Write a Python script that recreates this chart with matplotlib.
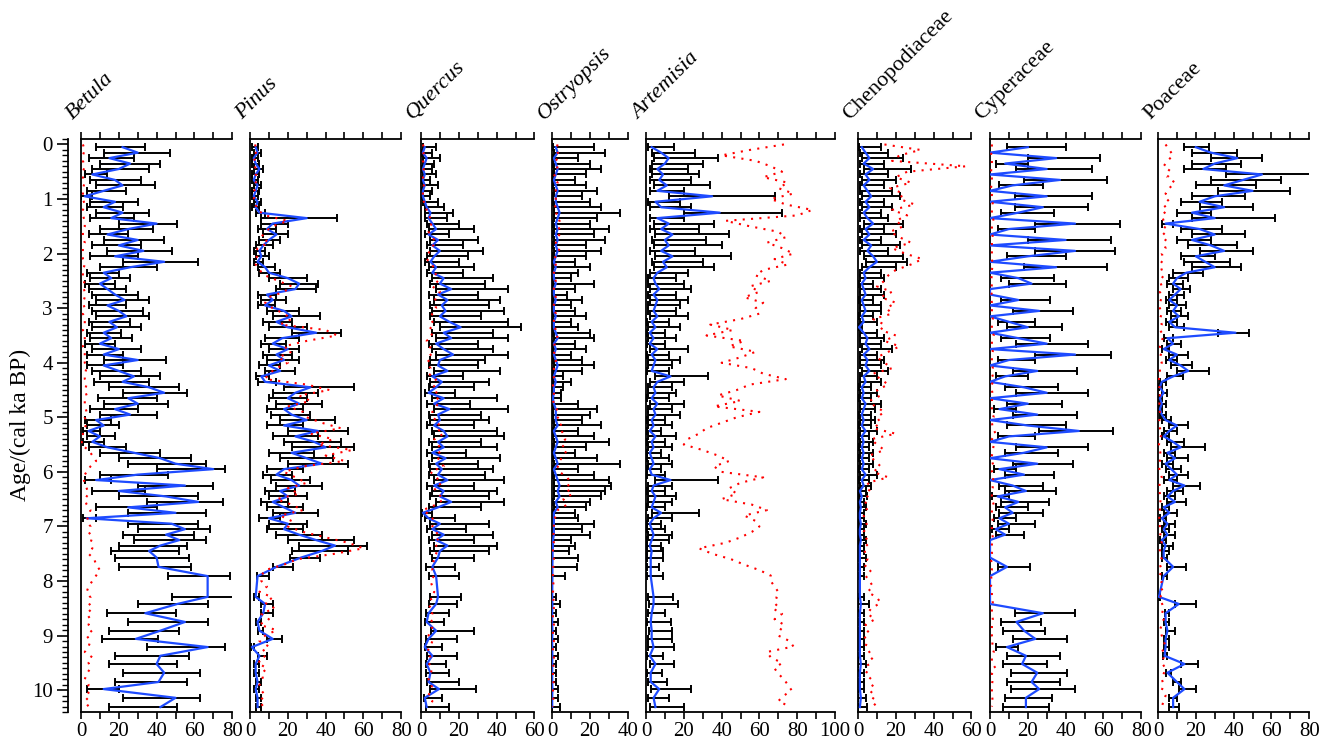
import matplotlib.pyplot as plt
import numpy as np
from matplotlib.ticker import MultipleLocator, FuncFormatter

plt.rcParams['font.family'] = ['Liberation Serif', 'DejaVu Serif']

# sample ages (cal ka BP) of the error-bar / blue series
ages = [0.05, 0.15, 0.25, 0.35, 0.45, 0.55, 0.65, 0.75, 0.85, 0.95,
        1.05, 1.15, 1.25, 1.35, 1.45, 1.55, 1.65, 1.75, 1.85, 1.95,
        2.05, 2.15, 2.25, 2.35, 2.45, 2.55, 2.65, 2.75, 2.85, 2.95,
        3.05, 3.15, 3.25, 3.35, 3.45, 3.55, 3.65, 3.75, 3.85, 3.95,
        4.05, 4.15, 4.25, 4.35, 4.45, 4.55, 4.65, 4.75, 4.85, 4.95,
        5.05, 5.15, 5.25, 5.35, 5.45, 5.55, 5.65, 5.75, 5.85, 5.95,
        6.05, 6.15, 6.25, 6.35, 6.45, 6.55, 6.65, 6.75, 6.85, 6.95,
        7.05, 7.15, 7.25, 7.35, 7.45,
        7.57, 7.74, 7.91, 8.29, 8.42, 8.59, 8.75, 8.91, 9.06, 9.21, 9.37, 9.52, 9.68, 9.85, 9.98, 10.14, 10.31]

# ages of the red dotted series
red_age = [0.0, 0.1, 0.2, 0.3, 0.4, 0.5, 0.6, 0.7, 0.8, 0.9,
           1.0, 1.1, 1.2, 1.3, 1.4, 1.5, 1.6, 1.7, 1.8, 1.9,
           2.0, 2.1, 2.2, 2.3, 2.4, 2.5, 2.6, 2.7, 2.8, 2.9,
           3.0, 3.1, 3.2, 3.3, 3.4, 3.5, 3.6, 3.7, 3.8, 3.9,
           4.0, 4.1, 4.2, 4.3, 4.4, 4.5, 4.6, 4.7, 4.8, 4.9,
           5.0, 5.1, 5.2, 5.3, 5.4, 5.5, 5.6, 5.7, 5.8, 5.9,
           6.0, 6.1, 6.2, 6.3, 6.4, 6.5, 6.6, 6.7, 6.8, 6.9,
           7.0, 7.1, 7.2, 7.3, 7.4, 7.5, 7.6, 7.7, 7.8, 7.9,
           8.0, 8.1, 8.2, 8.3, 8.4, 8.5, 8.6, 8.7, 8.8, 8.9,
           9.0, 9.1, 9.2, 9.3, 9.4, 9.5, 9.6, 9.7, 9.8, 9.9,
           10.0, 10.1, 10.2, 10.3]

# ---------------- Betula ----------------
betula_mean = [22, 30, 15, 26, 20, 6, 18, 22, 12, 2,
               18, 12, 22, 16, 40, 25, 14, 30, 20, 33,
               18, 44, 26, 12, 16, 10, 14, 18, 23, 14,
               20, 24, 15, 19, 12, 16, 10, 20, 12, 30,
               12, 20, 28, 22, 36, 44, 25, 30, 18, 26,
               8, 12, 4, 10, 6, 14, 28, 42, 50, 70,
               30, 8, 55, 20, 45, 62, 25, 50, 3, 48,
               55, 45, 52, 42, 36,
               40, 41, 67, 67, 51, 34, 55, 42, 29, 67, 42, 40, 44, 41, 12, 50, 42]
betula_lo = [8, 12, 4, 10, 6, 2, 5, 8, 3, 0,
             5, 3, 8, 5, 20, 10, 4, 12, 6, 14,
             5, 22, 10, 3, 5, 2, 4, 6, 8, 4,
             6, 8, 4, 6, 3, 5, 2, 6, 3, 12,
             3, 6, 10, 7, 15, 22, 9, 12, 5, 10,
             2, 3, 1, 3, 1, 4, 10, 20, 25, 40,
             10, 2, 30, 6, 20, 35, 8, 25, 1, 25,
             30, 22, 28, 20, 16,
             18, 20, 46, 48, 30, 14, 25, 15, 11, 35, 18, 15, 22, 18, 3, 22, 15]
betula_hi = [34, 47, 28, 42, 36, 14, 32, 39, 24, 6,
             30, 22, 36, 28, 51, 38, 25, 44, 32, 48,
             30, 62, 40, 20, 26, 18, 24, 30, 36, 24,
             33, 36, 26, 32, 21, 27, 18, 32, 22, 45,
             22, 32, 42, 36, 52, 56, 40, 46, 30, 40,
             16, 20, 10, 18, 12, 24, 42, 58, 66, 76,
             46, 16, 70, 34, 62, 75, 40, 66, 8, 62,
             68, 60, 66, 56, 52,
             57, 58, 79, 82, 67, 50, 67, 52, 41, 76, 57, 51, 63, 56, 20, 63, 51]
betula_red = [1, 2, 1, 1, 2, 1, 1, 2, 1, 1,
              1, 2, 1, 1, 2, 2, 1, 1, 2, 1,
              1, 1, 2, 1, 1, 2, 1, 2, 2, 1,
              2, 1, 2, 2, 1, 2, 2, 1, 2, 2,
              2, 3, 2, 2, 3, 2, 3, 2, 2, 3,
              2, 3, 2, 1, 1, 0, 4, 6, 8, 5,
              3, 1, 2, 3, 4, 2, 3, 5, 4, 3,
              5, 4, 6, 5, 6, 4, 7, 8, 10, 8,
              6, 4, 3, 5, 4, 6, 3, 5, 4, 6,
              3, 5, 4, 2, 6, 4, 5, 3, 2, 4,
              3, 5, 2, 4]

# ---------------- Pinus ----------------
pinus_mean = [3, 4, 2, 3, 5, 3, 2, 4, 3, 2,
              4, 3, 5, 30, 12, 9, 14, 10, 7, 5,
              6, 4, 8, 10, 20, 26, 24, 9, 12, 8,
              18, 22, 14, 20, 35, 17, 12, 20, 14, 18,
              10, 16, 6, 8, 32, 24, 20, 26, 18, 22,
              30, 18, 36, 24, 34, 40, 22, 30, 38, 18,
              14, 22, 26, 16, 20, 12, 18, 24, 10, 20,
              18, 26, 35, 45, 38,
              27, 14, 4, 3, 8, 7, 4, 5, 12, 1, 5, 3, 3, 4, 3, 4, 4]
pinus_lo = [1, 2, 1, 1, 2, 1, 1, 2, 1, 1,
            2, 1, 3, 6, 6, 4, 7, 5, 3, 2,
            3, 2, 4, 5, 10, 16, 14, 4, 6, 4,
            9, 12, 7, 10, 22, 8, 6, 10, 7, 9,
            5, 8, 3, 4, 18, 12, 10, 14, 9, 11,
            16, 9, 20, 12, 18, 22, 10, 16, 20, 9,
            7, 11, 14, 8, 10, 6, 9, 12, 5, 10,
            9, 14, 20, 26, 22,
            21, 12, 3.5, 2, 6, 6, 3, 4, 9, 0.5, 4, 2, 2, 3, 2, 3, 3]
pinus_hi = [4, 6, 4, 5, 7, 5, 4, 6, 5, 4,
            6, 5, 8, 46, 20, 14, 20, 16, 12, 8,
            10, 7, 13, 16, 30, 36, 35, 14, 19, 13,
            26, 37, 22, 30, 48, 26, 19, 26, 22, 26,
            16, 24, 10, 14, 55, 36, 30, 38, 28, 32,
            45, 28, 52, 36, 48, 55, 34, 44, 52, 28,
            22, 32, 38, 24, 30, 20, 28, 36, 16, 30,
            28, 38, 55, 62, 52,
            37, 23, 10, 5, 12, 12, 6, 7, 17, 2, 9, 5, 5, 6, 5, 6, 6]
pinus_red = [3, 2, 4, 2, 3, 2, 4, 3, 2, 3,
             2, 3, 4, 8, 20, 12, 8, 6, 10, 4,
             3, 4, 3, 5, 8, 15, 22, 18, 10, 8,
             12, 18, 22, 16, 40, 46, 30, 18, 22, 15,
             20, 14, 10, 8, 30, 42, 26, 32, 20, 28,
             30, 38, 48, 32, 44, 36, 54, 40, 50, 28,
             18, 24, 30, 20, 26, 14, 22, 28, 16, 22,
             20, 28, 40, 52, 60, 45, 25, 18, 8, 6,
             6, 9, 5, 12, 8, 13, 6, 10, 5, 14,
             8, 5, 10, 6, 8, 4, 9, 6, 7, 5,
             6, 8, 5, 7]

# ---------------- Quercus ----------------
quercus_mean = [2, 1, 3, 2, 1, 2, 1, 2, 1, 1,
                2, 3, 5, 4, 6, 8, 4, 9, 6, 10,
                7, 5, 8, 6, 12, 10, 16, 9, 14, 11,
                13, 10, 15, 21, 12, 16, 8, 12, 17, 10,
                9, 14, 6, 11, 8, 4, 12, 7, 15, 9,
                10, 7, 12, 14, 9, 12, 6, 13, 8, 11,
                9, 14, 7, 12, 10, 16, 9, 1, 4, 10,
                6, 12, 8, 14, 10,
                9, 6, 8, 9, 8, 4, 3, 8, 4, 2, 6, 3, 5, 4, 9.5, 2, 3]
quercus_lo = [1, 0.5, 1, 1, 0.5, 1, 0.5, 1, 0.5, 0.5,
              1, 2, 2, 2, 3, 4, 2, 5, 3, 5,
              3, 2, 4, 3, 6, 5, 8, 4, 7, 5,
              6, 5, 7, 10, 6, 8, 4, 6, 8, 5,
              4, 7, 3, 5, 4, 2, 6, 3, 7, 4,
              5, 3, 6, 7, 4, 6, 3, 6, 4, 5,
              4, 7, 3, 6, 5, 8, 4, 0.5, 2, 5,
              3, 6, 4, 7, 5,
              6, 2.5, 4, 4.5, 4, 2.5, 2, 5.4, 2.5, 2, 3, 2.5, 2.5, 3, 4.6, 1.5, 2.5]
quercus_hi = [8, 6, 10, 7, 6, 8, 5, 9, 6, 5,
              9, 12, 17, 14, 20, 28, 15, 30, 22, 33,
              25, 20, 28, 22, 38, 34, 46, 30, 42, 36,
              44, 32, 46, 53, 38, 46, 30, 38, 46, 34,
              30, 42, 22, 36, 28, 18, 40, 26, 46, 32,
              36, 28, 40, 44, 32, 40, 24, 42, 30, 38,
              34, 44, 28, 40, 36, 44, 32, 6, 18, 36,
              24, 38, 28, 40, 36,
              28, 18, 20, 21, 19, 15, 12, 28, 19, 11, 19, 13, 15, 20, 29, 11, 15]
quercus_red = [1, 2, 1, 1, 2, 1, 1, 2, 1, 1,
               1, 2, 3, 4, 6, 5, 4, 6, 8, 5,
               4, 3, 6, 7, 8, 9, 6, 10, 8, 7,
               8, 6, 5, 7, 4, 6, 3, 5, 4, 6,
               3, 5, 4, 8, 6, 9, 7, 10, 8, 6,
               6, 10, 8, 12, 7, 9, 11, 8, 10, 12,
               5, 8, 11, 7, 9, 12, 8, 1, 5, 7,
               6, 8, 10, 7, 9, 8, 7, 6, 6, 7,
               5, 6, 7, 5, 6, 4, 6, 5, 7, 5,
               4, 6, 5, 3, 5, 4, 6, 5, 4, 6,
               5, 4, 6, 5]

# ---------------- Ostryopsis ----------------
ostryopsis_mean = [2, 3, 1, 2, 3, 2, 1, 2, 3, 2,
                   2, 3, 4, 3, 2, 3, 2, 3, 2, 3,
                   2, 1, 2, 1, 1, 2, 1, 1, 2, 1,
                   1, 2, 1, 1, 2, 3, 1, 2, 1, 2,
                   3, 2, 1, 2, 1, 1, 0.5, 1, 2, 2,
                   2, 3, 1, 2, 3, 2, 1, 2, 3, 1,
                   2, 3, 4, 3, 4, 2, 3, 1, 1, 1,
                   1, 1, 0.5, 0.5, 0.3,
                   0.3, 0.2, 0.2, 0.1, 0.2, 0.1, 0.1, 0.2, 0.1, 0.1, 0.2, 0.1, 0.1, 0.1, 0.2, 0.1, 0.1]
ostryopsis_lo = [0.5, 1, 0.3, 0.5, 1, 0.5, 0.3, 0.5, 1, 0.5,
                 0.5, 1, 1, 1, 0.5, 1, 0.5, 1, 0.5, 1,
                 0.5, 0.3, 0.5, 0.3, 0.3, 0.5, 0.3, 0.3, 0.5, 0.3,
                 0.3, 0.5, 0.3, 0.3, 0.5, 1, 0.3, 0.5, 0.3, 0.5,
                 1, 0.5, 0.3, 0.5, 0.3, 0.3, 0.2, 0.3, 0.5, 0.5,
                 0.5, 1, 0.3, 0.5, 1, 0.5, 0.3, 0.5, 1, 0.3,
                 0.5, 1, 1, 1, 1, 0.5, 1, 0.3, 0.3, 0.3,
                 0.3, 0.3, 0.1, 0.1, 0.1,
                 0, 0, 0, 0, 0, 0, 0, 0, 0, 0, 0, 0, 0, 0, 0, 0, 0]
ostryopsis_hi = [22, 28, 14, 20, 26, 18, 12, 18, 24, 16,
                 20, 26, 36, 24, 20, 30, 22, 28, 18, 26,
                 18, 12, 20, 14, 10, 22, 12, 8, 16, 10,
                 12, 18, 10, 14, 20, 22, 12, 18, 10, 16,
                 22, 16, 6, 10, 6, 5, 5, 14, 24, 20,
                 16, 26, 14, 22, 30, 18, 12, 24, 36, 14,
                 22, 30, 31, 28, 26, 20, 18, 12, 14, 22,
                 16, 20, 10, 12, 9,
                 14, 13, 7, 2, 4, 2, 3, 2, 3, 2, 3, 2, 2, 2, 3, 3, 4]
ostryopsis_red = [3, 2, 4, 2, 3, 2, 1, 3, 2, 2,
                  2, 1, 3, 2, 4, 3, 5, 3, 2, 4,
                  3, 1, 2, 1, 1, 2, 1, 1, 2, 1,
                  1, 2, 1, 1, 2, 3, 2, 1, 1, 2,
                  2, 1, 1, 1, 0.5, 1, 1, 0.5, 2, 3,
                  3, 5, 4, 6, 7, 5, 8, 6, 4, 3,
                  4, 8, 10, 7, 11, 6, 8, 3, 2, 1,
                  1, 1, 0.5, 1, 0.5, 0.5, 1, 0.5, 1, 0.5,
                  0.5, 1, 0.5, 1, 0.5, 1, 0.5, 0.5, 1, 0.5,
                  0.5, 1, 0.5, 0.5, 1, 0.5, 1, 0.5, 0.5, 1,
                  0.5, 1, 0.5, 0.5]

# ---------------- Artemisia ----------------
artemisia_mean = [3, 8, 12, 10, 6, 9, 7, 11, 6, 35,
                  5, 8, 39, 6, 12, 8, 14, 10, 12, 8,
                  14, 9, 11, 6, 4, 5, 7, 4, 6, 5,
                  4, 6, 3, 5, 2, 4, 2, 6, 3, 5,
                  4, 3, 13, 6, 4, 5, 3, 6, 4, 5,
                  3, 4, 2, 5, 3, 4, 2, 3, 4, 2,
                  3, 13, 4, 3, 5, 4, 3, 8, 4, 2,
                  3, 4, 3, 2, 3,
                  2.5, 2.5, 2.5, 4, 4, 3, 2.5, 3, 3, 4, 2, 5, 2.5, 2.5, 7, 4, 5]
artemisia_lo = [1, 3, 4, 3, 2, 3, 2, 4, 2, 12,
                1, 2, 20, 2, 4, 2, 5, 3, 4, 2,
                5, 3, 4, 2, 1, 1, 2, 1, 2, 1,
                1, 2, 0.5, 1, 0.5, 1, 0.5, 2, 0.5, 1,
                1, 0.5, 5, 2, 1, 1, 0.5, 2, 1, 1,
                0.5, 1, 0.5, 1, 0.5, 1, 0.5, 0.5, 1, 0.5,
                0.5, 5, 1, 0.5, 1, 1, 0.5, 3, 1, 0.5,
                0.5, 1, 0.5, 0.5, 0.5,
                0.7, 0.7, 0.7, 1.2, 1.8, 1, 0.7, 1.8, 1.2, 1.2, 0.7, 2, 0.7, 1.2, 2.5, 1.2, 2]
artemisia_hi = [15, 26, 38, 30, 22, 28, 24, 34, 20, 68,
                18, 24, 72, 20, 36, 28, 44, 32, 40, 26,
                45, 30, 36, 22, 16, 20, 24, 16, 22, 18,
                16, 22, 12, 18, 10, 16, 10, 22, 12, 18,
                14, 12, 33, 20, 14, 16, 12, 20, 14, 18,
                10, 14, 8, 16, 10, 14, 8, 12, 14, 8,
                10, 38, 14, 10, 16, 14, 10, 28, 14, 8,
                10, 14, 12, 8, 9,
                9, 7, 9, 14.5, 16.7, 10, 13, 14, 14, 15, 9, 15, 8.5, 11, 24, 12, 20]
artemisia_red = [73, 55, 40, 58, 66, 72, 62, 75, 70, 78,
                 66, 74, 88, 80, 42, 55, 70, 74, 64, 72,
                 78, 68, 75, 62, 58, 66, 55, 60, 52, 62,
                 58, 60, 50, 34, 46, 32, 52, 44, 58, 50,
                 40, 56, 62, 74, 55, 48, 38, 50, 36, 60,
                 48, 40, 32, 28, 22, 20, 30, 38, 44, 36,
                 40, 62, 50, 44, 48, 40, 56, 64, 52, 58,
                 60, 56, 50, 42, 28, 35, 45, 52, 60, 66,
                 66, 68, 70, 69, 70, 67, 72, 68, 73, 71,
                 70, 76, 78, 64, 66, 72, 68, 70, 73, 75,
                 77, 73, 70, 76]

# ---------------- Chenopodiaceae ----------------
cheno_mean = [2, 4, 6, 3, 8, 4, 6, 3, 5, 7,
              4, 6, 3, 5, 8, 4, 6, 3, 7, 5,
              8, 10, 6, 3, 4, 2, 3, 4, 2, 3,
              4, 2, 3, 0.5, 3, 5, 4, 6, 3, 5,
              4, 6, 3, 4, 2, 3, 2, 4, 3, 2,
              3, 2, 4, 2, 3, 2, 3, 2, 3, 2,
              4, 2, 3, 1, 2, 1, 1.5, 1, 1, 1.5,
              1, 1, 1.5, 1, 1,
              1, 1, 1, 1, 1.5, 1, 1, 1, 1, 1, 1, 1.5, 1, 1, 1, 1.5, 1]
cheno_lo = [0.5, 1, 2, 1, 3, 1, 2, 1, 1, 2,
            1, 2, 1, 1, 3, 1, 2, 1, 2, 1,
            3, 4, 2, 1, 1, 0.5, 1, 1, 0.5, 1,
            1, 0.5, 1, 0, 1, 1, 1, 2, 1, 1,
            1, 2, 1, 1, 0.5, 1, 0.5, 1, 1, 0.5,
            1, 0.5, 1, 0.5, 1, 0.5, 1, 0.5, 1, 0.5,
            1, 0.5, 1, 0.3, 0.5, 0.3, 0.5, 0.3, 0.3, 0.5,
            0.3, 0.3, 0.5, 0.3, 0.3,
            0.2, 0.2, 0.2, 0.2, 0.2, 0.2, 0.2, 0.2, 0.2, 0.2, 0.2, 0.2, 0.2, 0.2, 0.2, 0.2, 0.2]
cheno_hi = [12, 16, 24, 14, 28, 16, 20, 14, 18, 22,
            14, 18, 12, 16, 24, 14, 20, 12, 22, 16,
            24, 26, 20, 12, 14, 8, 12, 14, 8, 12,
            12, 8, 10, 2, 10, 14, 12, 18, 10, 14,
            12, 16, 10, 12, 7, 10, 7, 12, 9, 7,
            9, 7, 10, 6, 8, 6, 8, 6, 8, 6,
            10, 6, 7, 4, 5, 3, 4, 3, 3, 4,
            3, 3, 4, 3, 3,
            4, 3, 3, 3, 6, 3, 3, 3, 3, 3, 3, 4, 3, 3, 3, 4, 5]
cheno_red = [14, 33, 22, 18, 57, 26, 20, 28, 17, 24,
             22, 30, 18, 26, 20, 24, 17, 22, 28, 18,
             25, 34, 28, 20, 16, 14, 10, 18, 12, 20,
             15, 18, 8, 14, 12, 20, 14, 22, 16, 10,
             14, 18, 8, 12, 16, 10, 12, 6, 9, 14,
             10, 12, 8, 20, 7, 10, 14, 6, 9, 12,
             8, 16, 5, 7, 4, 6, 3, 5, 3, 4,
             5, 3, 4, 6, 3, 4, 5, 3, 7, 4,
             6, 8, 5, 10, 12, 7, 5, 9, 4, 6,
             3, 5, 4, 6, 8, 5, 6, 4, 7, 8,
             6, 9, 7, 10]

# ---------------- Cyperaceae ----------------
cyper_mean = [20, 0, 35, 8, 30, 0, 37, 12, 0, 30,
              0, 28, 15, 0, 45, 10, 0, 40, 0, 45,
              20, 0, 35, 0, 15, 22, 0, 0, 15, 0,
              26, 0, 10, 20, 0, 15, 30, 0, 45, 10,
              0, 25, 8, 0, 18, 30, 0, 20, 5, 25,
              0, 20, 47, 10, 0, 30, 18, 0, 25, 5,
              18, 0, 12, 19, 4, 15, 8, 12, 5, 10,
              3, 8, 0, 0, 0,
              0, 9, 0, 0, 0, 28, 14, 18, 24, 9, 19, 17, 25, 22, 26, 19, 19]
cyper_lo = [9, 0, 20, 3, 14, 0, 18, 5, 0, 13,
            0, 13, 6, 0, 24, 4, 0, 20, 0, 24,
            9, 0, 18, 0, 6, 10, 0, 0, 6, 0,
            12, 0, 4, 9, 0, 6, 14, 0, 24, 4,
            0, 12, 3, 0, 8, 14, 0, 9, 2, 12,
            0, 9, 26, 4, 0, 14, 8, 0, 12, 2,
            8, 0, 5, 8, 1, 6, 3, 5, 2, 4,
            1, 3, 0, 0, 0,
            0, 4, 0, 0, 0, 13, 6, 7, 12, 3, 9, 7, 11, 9, 11, 8, 7]
cyper_hi = [40, 0, 58, 20, 54, 0, 62, 28, 0, 54,
            0, 52, 34, 0, 69, 24, 0, 64, 0, 66,
            40, 0, 62, 0, 34, 40, 0, 0, 32, 0,
            44, 0, 24, 38, 0, 32, 52, 0, 64, 24,
            0, 46, 20, 0, 36, 52, 0, 38, 14, 46,
            0, 40, 65, 24, 0, 52, 36, 0, 44, 14,
            34, 0, 28, 35, 10, 31, 20, 28, 14, 24,
            10, 18, 0, 0, 0,
            0, 21, 0, 0, 0, 45, 27, 29, 41, 15, 37, 30, 41, 37, 45, 33, 31]
cyper_red = [1, 1, 0.5, 1, 1, 0.5, 1, 1, 0.5, 1,
             1, 1.5, 1, 1, 2, 1, 1, 1.5, 1, 1,
             1, 1, 1.5, 1, 1, 0.5, 1, 1, 0.5, 1,
             1, 1, 1.5, 1, 1, 2, 1, 1, 1.5, 1,
             1, 1.5, 1, 2, 1, 1, 1.5, 1, 1, 1,
             2, 1, 1.5, 3, 1, 2, 1.5, 1, 1, 2,
             1, 2, 1, 1.5, 1, 1, 2, 1, 1, 1.5,
             1, 1, 1.5, 1, 1, 1, 0.5, 1, 1, 0.5,
             1, 0.5, 1, 1, 1.5, 1, 1, 1.5, 1, 1,
             1, 1.5, 1, 2, 1, 1, 3, 1, 1.5, 1,
             1, 1, 1.5, 1]

# ---------------- Poaceae ----------------
poaceae_mean = [20, 28, 42, 30, 24, 55, 45, 35, 50, 30,
                22, 35, 18, 30, 4, 22, 30, 18, 28, 35,
                20, 25, 30, 15, 10, 8, 12, 9, 6, 10,
                8, 11, 6, 9, 41, 5, 8, 3, 10, 6,
                12, 16, 8, 2, 1, 3, 1, 2, 1, 2,
                4, 10, 6, 3, 8, 12, 5, 9, 4, 7,
                10, 6, 14, 8, 5, 9, 3, 6, 2, 5,
                3, 5, 2, 4, 3,
                3, 8, 3, 0.5, 11, 4, 4, 5, 4, 4, 3.5, 14, 5, 10, 14, 8, 8]
poaceae_lo = [14, 18, 28, 18, 14, 36, 28, 20, 32, 18,
              12, 22, 10, 18, 2, 12, 18, 10, 16, 22,
              12, 14, 18, 8, 6, 5, 8, 6, 4, 6,
              5, 7, 4, 6, 32, 3, 5, 2, 6, 4,
              7, 10, 5, 1, 0.5, 2, 0.5, 1, 0.5, 1,
              2, 6, 3, 2, 5, 7, 3, 5, 2, 4,
              6, 3, 8, 5, 3, 5, 2, 3, 1, 3,
              2, 3, 1, 2, 2,
              2, 5, 2, 0.3, 9, 3.5, 3, 4, 3, 3, 2.5, 12, 4, 8, 11, 6, 6]
poaceae_hi = [27, 42, 55, 44, 36, 81, 65, 52, 70, 46,
              34, 50, 28, 62, 8, 34, 46, 28, 42, 50,
              30, 38, 44, 24, 16, 13, 17, 14, 10, 15,
              12, 16, 10, 14, 48, 8, 12, 6, 16, 10,
              18, 27, 13, 4, 2, 5, 2, 4, 2, 4,
              7, 16, 10, 6, 14, 25, 9, 16, 8, 12,
              16, 10, 22, 13, 9, 15, 6, 10, 4, 9,
              6, 9, 4, 8, 6,
              5, 15, 5, 1, 20, 6, 6, 9, 6, 6, 5, 21, 7, 12, 20, 10, 11]
poaceae_red = [4, 6, 8, 5, 3, 7, 5, 9, 6, 4,
               6, 3, 5, 2, 3, 4, 2, 5, 3, 4,
               2, 3, 1, 2, 3, 1, 2, 1, 2, 1,
               1, 2, 1, 2, 1, 3, 2, 1, 2, 1,
               2, 1, 1, 0.5, 1, 0.5, 1, 1, 0.5, 1,
               1, 0.5, 1, 2, 1, 0.5, 1, 1.5, 1, 0.5,
               1, 2, 1, 0.5, 1, 1.5, 1, 1, 0.5, 1,
               1, 1.5, 1, 2, 1, 1, 2, 1, 2, 1,
               2, 1, 3, 1, 2, 3, 2, 3, 2, 1,
               2, 3, 4, 2, 3, 2, 4, 3, 2, 3,
               2, 4, 3, 2]

taxa = ['Betula', 'Pinus', 'Quercus', 'Ostryopsis', 'Artemisia',
        'Chenopodiaceae', 'Cyperaceae', 'Poaceae']
italic = [True, True, True, True, True, False, False, False]
xmax = [80, 80, 60, 40, 100, 60, 80, 80]
means = [betula_mean, pinus_mean, quercus_mean, ostryopsis_mean, artemisia_mean,
         cheno_mean, cyper_mean, poaceae_mean]
los = [betula_lo, pinus_lo, quercus_lo, ostryopsis_lo, artemisia_lo,
       cheno_lo, cyper_lo, poaceae_lo]
his = [betula_hi, pinus_hi, quercus_hi, ostryopsis_hi, artemisia_hi,
       cheno_hi, cyper_hi, poaceae_hi]
reds = [betula_red, pinus_red, quercus_red, ostryopsis_red, artemisia_red,
        cheno_red, cyper_red, poaceae_red]

# layout in pixels
W, H = 1322, 743
top_px, bot_px = 139, 712
px_per_unit = 1.89
lefts = [81, 250, 421, 552, 646, 858, 990, 1158]
YLIM = (10.40, -0.10)
BLUE = '#1e4bff'

fig = plt.figure(figsize=(W / 100, H / 100), dpi=100)
ax_h = (bot_px - top_px) / H
ax_b = 1 - bot_px / H

age = np.array(ages)
for name, ital, xm, left, mean, lo, hi, red in zip(taxa, italic, xmax, lefts,
                                                    means, los, his, reds):
    ax = fig.add_axes([left / W, ax_b, xm * px_per_unit / W, ax_h])
    lo = np.array(lo, dtype=float)
    hi = np.array(hi, dtype=float)
    m = hi > 0
    ax.hlines(age[m], lo[m], hi[m], color='black', lw=1.4, zorder=2)
    ax.plot(lo[m], age[m], '|', color='black', ms=5.5, mew=1.4, zorder=2)
    ax.plot(hi[m], age[m], '|', color='black', ms=5.5, mew=1.4, zorder=2)
    ax.plot(mean, age, color=BLUE, lw=1.6, zorder=3)
    ax.plot(red, red_age, color='red', lw=1.5, linestyle=(0, (1, 3)), zorder=4)

    ax.set_xlim(0, xm)
    ax.set_ylim(*YLIM)
    ax.spines['right'].set_visible(False)
    for s in ['left', 'top', 'bottom']:
        ax.spines[s].set_linewidth(1.3)
    ax.set_yticks([])
    ax.xaxis.set_major_locator(MultipleLocator(10))
    ax.xaxis.set_major_formatter(FuncFormatter(
        lambda v, p: f'{int(round(v))}' if round(v) % 20 == 0 else ''))
    ax.tick_params(axis='x', direction='out', top=True, bottom=True,
                   labeltop=False, length=5, width=1.2, labelsize=15, pad=2)

    fig.text((left - 8) / W, 1 - 120 / H, name, rotation=45,
             rotation_mode='anchor', ha='left', va='baseline', fontsize=16,
             style='italic' if ital else 'normal')

# age axis
yax = fig.add_axes([68 / W, ax_b, 0.0001, ax_h])
for s in ['right', 'top', 'bottom']:
    yax.spines[s].set_visible(False)
yax.spines['left'].set_linewidth(1.3)
yax.set_xticks([])
yax.set_ylim(*YLIM)
yax.yaxis.set_major_locator(MultipleLocator(1))
yax.yaxis.set_minor_locator(MultipleLocator(0.1))
yax.tick_params(axis='y', which='major', direction='out', length=8, width=1.2,
                labelsize=15, pad=3)
yax.tick_params(axis='y', which='minor', direction='out', length=4, width=1.0)
fig.text(20 / W, 1 - 425 / H, 'Age/(cal ka BP)', rotation=90, ha='center',
         va='center', fontsize=17)

fig.savefig('out.png', dpi=100)
